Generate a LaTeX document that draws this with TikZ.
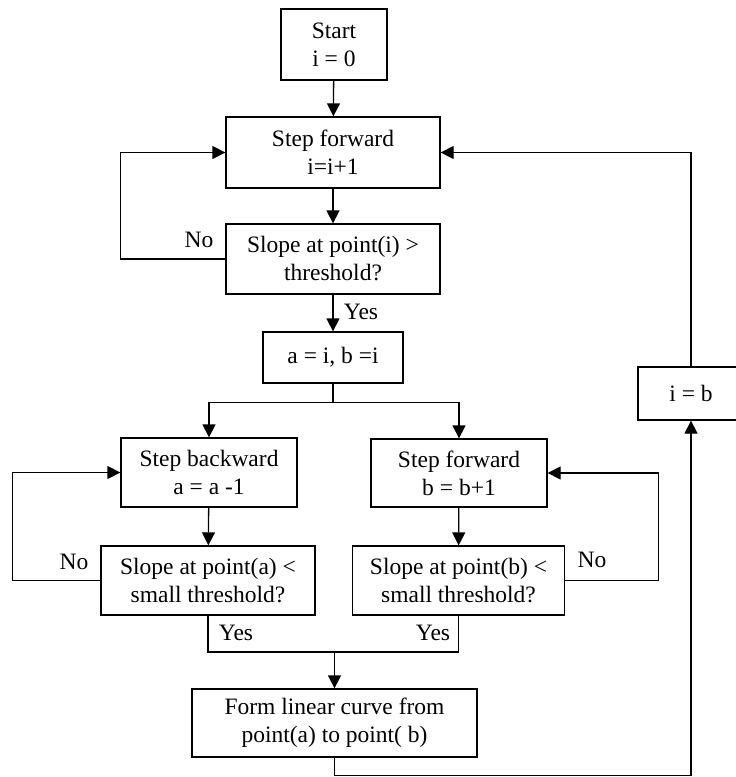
\documentclass[tikz,border=0pt]{standalone}
\usepackage{fontspec}
\setmainfont{Liberation Serif}
\usepackage{tikz}
\usetikzlibrary{arrows.meta}

\begin{document}
\begin{tikzpicture}[x=1pt,y=-1pt,
  box/.style={draw, line width=1.3pt, rectangle, align=center, inner sep=0pt,
    font=\fontsize{23.5}{28}\selectfont},
  lbl/.style={inner sep=0pt, font=\fontsize{23.5}{28}\selectfont},
  flow/.style={-{Triangle[length=13pt,width=13pt]}, line width=1.3pt},
  link/.style={line width=1.3pt}]
\useasboundingbox (0,0) rectangle (736,777);
% main loop over i
\node[box, minimum width=106pt, minimum height=71pt] (start) at (334,44.5) {Start\\i = 0};
\node[box, minimum width=214pt, minimum height=71pt] (stepi) at (333,152.5) {Step forward\\i=i+1};
\node[box, minimum width=214pt, minimum height=70pt] (testi) at (333,259) {Slope at point(i) >\\threshold?};
\node[box, minimum width=140pt, minimum height=51pt] (setab) at (333,357.5) {a = i, b =i};
% the two searches
\node[box, minimum width=176pt, minimum height=69pt] (stepa) at (209,472.5) {Step backward\\a = a -1};
\node[box, minimum width=176pt, minimum height=68pt] (stepb) at (459,473) {Step forward\\b = b+1};
\node[box, minimum width=214pt, minimum height=69pt] (testa) at (208,580.5) {Slope at point(a) <\\small threshold?};
\node[box, minimum width=212pt, minimum height=69pt] (testb) at (458.5,580.5) {Slope at point(b) <\\small threshold?};
\node[box, minimum width=285pt, minimum height=68pt] (curve) at (334.5,723) {Form linear curve from\\point(a) to point( b)};
\node[box, minimum width=106pt, minimum height=53pt] (seti) at (691,393.5) {i = b};
\coordinate (join) at (334.5,652);
% labels
\node[lbl] (noi) at (199,240) {No};
\node[lbl] (yesi) at (361,312) {Yes};
\node[lbl] (noa) at (74,562) {No};
\node[lbl] (nob) at (592,560) {No};
\node[lbl] (yesa) at (236,633) {Yes};
\node[lbl] (yesb) at (433,633) {Yes};
% connectors
\draw[flow] (start) -- (stepi);
\draw[flow] (stepi) -- (testi);
\draw[flow] (testi) -- (setab);
\draw[flow] (testi.west) -- ++(-105,0) |- (stepi.west);
\draw[flow] (setab.south) -- ++(0,19) -| (stepa.north);
\draw[flow] (setab.south) -- ++(0,19) -| (stepb.north);
\draw[flow] (stepa) -- (testa);
\draw[flow] (stepb) -- (testb);
\draw[flow] (testa.west) -- ++(-88,0) |- (stepa.west);
\draw[flow] (testb.east) -- ++(93,0) |- (stepb.east);
\draw[link] (testa.south) |- (join) -| (testb.south);
\draw[flow] (join) -- (curve.north);
\draw[flow] (curve.south) -- ++(0,18) -| (seti.south);
\draw[flow] (seti.north) |- (stepi.east);
\end{tikzpicture}
\end{document}
